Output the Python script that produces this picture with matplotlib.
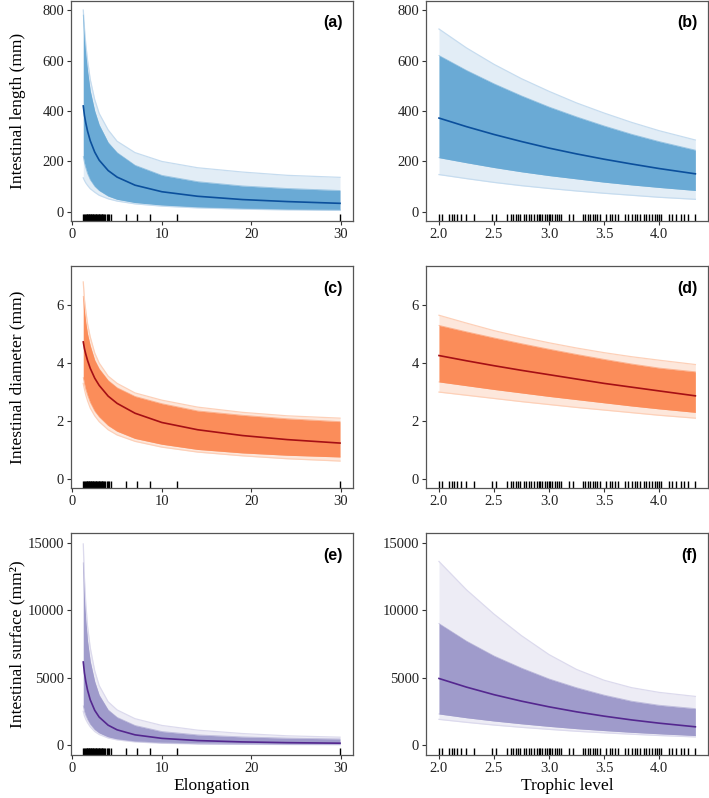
import matplotlib
matplotlib.use("Agg")
import matplotlib.pyplot as plt

plt.rcParams['font.family'] = ['Liberation Serif', 'DejaVu Serif']

elong_x = [1.22, 1.35, 1.5, 1.7, 2.0, 2.5, 3.0, 4.0, 5.0, 7.0, 10, 14, 19, 24, 29.9]
troph_x = [2.0, 2.25, 2.5, 2.75, 3.0, 3.25, 3.5, 3.75, 4.0, 4.33]

# (a) intestinal length vs elongation
len_el_med = [420, 383, 353, 320, 282, 237, 205, 164, 138, 106, 80, 62, 49, 41, 34]
len_el_hi = [780, 700, 630, 560, 480, 400, 345, 275, 235, 185, 145, 120, 103, 93, 85]
len_el_top = [800, 730, 665, 600, 525, 445, 390, 325, 280, 235, 200, 175, 158, 145, 137]
len_el_lo = [220, 195, 175, 152, 128, 102, 85, 63, 50, 37, 27, 19, 14, 10, 8]
len_el_bot = [135, 125, 115, 105, 92, 78, 66, 52, 43, 32, 23, 16, 11, 8, 6]

# (b) intestinal length vs trophic level
len_tl_med = [372, 338, 307, 279, 253, 230, 209, 190, 172, 151]
len_tl_hi = [620, 561, 508, 460, 416, 377, 341, 308, 279, 245]
len_tl_top = [725, 650, 585, 528, 478, 432, 392, 355, 322, 285]
len_tl_lo = [215, 195, 176, 159, 144, 131, 118, 107, 97, 85]
len_tl_bot = [148, 132, 117, 104, 93, 83, 74, 66, 58, 50]

# (c) intestinal diameter vs elongation
dia_el_med = [4.73, 4.50, 4.31, 4.09, 3.82, 3.48, 3.23, 2.86, 2.61, 2.27, 1.95, 1.70, 1.50, 1.36, 1.24]
dia_el_hi = [6.3, 5.8, 5.4, 5.0, 4.6, 4.1, 3.8, 3.4, 3.15, 2.85, 2.6, 2.35, 2.2, 2.08, 1.98]
dia_el_top = [6.8, 6.2, 5.8, 5.35, 4.9, 4.35, 4.0, 3.55, 3.3, 2.97, 2.72, 2.48, 2.3, 2.18, 2.1]
dia_el_lo = [3.5, 3.3, 3.1, 2.9, 2.65, 2.35, 2.15, 1.85, 1.65, 1.4, 1.2, 1.02, 0.9, 0.82, 0.76]
dia_el_bot = [3.3, 3.1, 2.9, 2.7, 2.45, 2.18, 1.98, 1.7, 1.52, 1.3, 1.1, 0.93, 0.8, 0.7, 0.62]

# (d) intestinal diameter vs trophic level
dia_tl_med = [4.26, 4.08, 3.91, 3.75, 3.60, 3.45, 3.30, 3.17, 3.04, 2.87]
dia_tl_hi = [5.3, 5.08, 4.87, 4.67, 4.48, 4.3, 4.13, 3.97, 3.83, 3.7]
dia_tl_top = [5.65, 5.38, 5.12, 4.9, 4.7, 4.52, 4.36, 4.22, 4.1, 3.95]
dia_tl_lo = [3.35, 3.22, 3.09, 2.97, 2.85, 2.74, 2.63, 2.52, 2.42, 2.3]
dia_tl_bot = [3.0, 2.89, 2.78, 2.67, 2.57, 2.47, 2.38, 2.29, 2.2, 2.1]

# (e) intestinal surface vs elongation
sur_el_med = [6150, 5345, 4715, 4062, 3348, 2569, 2068, 1468, 1125, 754, 493, 330, 230, 174, 135]
sur_el_hi = [13500, 11000, 9300, 7700, 6200, 4700, 3700, 2600, 2050, 1450, 1000, 750, 600, 510, 450]
sur_el_top = [14900, 12400, 10500, 8800, 7200, 5500, 4400, 3200, 2600, 1950, 1450, 1100, 850, 680, 580]
sur_el_lo = [2900, 2500, 2200, 1900, 1550, 1150, 900, 600, 440, 270, 160, 95, 65, 45, 35]
sur_el_bot = [2500, 2150, 1900, 1650, 1350, 1000, 780, 520, 380, 230, 130, 80, 50, 35, 25]

# (f) intestinal surface vs trophic level
sur_tl_med = [4930, 4290, 3730, 3250, 2830, 2460, 2140, 1860, 1620, 1350]
sur_tl_hi = [9000, 7700, 6600, 5700, 4900, 4250, 3700, 3250, 2950, 2700]
sur_tl_top = [13600, 11500, 9700, 8100, 6700, 5600, 4800, 4250, 3900, 3600]
sur_tl_lo = [2300, 2020, 1780, 1570, 1380, 1210, 1070, 940, 830, 700]
sur_tl_bot = [1900, 1680, 1480, 1310, 1160, 1020, 905, 800, 705, 600]

# observed predictor values (rug)
elong_obs = [1.22, 1.31, 1.40, 1.52, 1.60, 1.68, 1.75, 1.83, 1.90, 1.98, 2.05, 2.12,
             2.20, 2.28, 2.35, 2.44, 2.52, 2.60, 2.68, 2.77, 2.85, 2.93, 3.02, 3.10,
             3.18, 3.27, 3.35, 3.45, 3.55, 3.66, 3.90, 4.02, 4.15, 4.28,
             5.98, 7.22, 8.70, 11.70, 29.90]
troph_obs = [2.00, 2.03, 2.09, 2.12, 2.14, 2.16, 2.20, 2.25, 2.32,
             2.48, 2.52,
             2.62, 2.65, 2.67, 2.70, 2.72, 2.74, 2.77, 2.79, 2.82, 2.84, 2.86,
             2.89, 2.91, 2.92, 2.94, 2.96, 2.98, 3.00, 3.01, 3.03, 3.05, 3.07, 3.09, 3.11,
             3.18, 3.22,
             3.31, 3.33, 3.35, 3.37, 3.40, 3.42, 3.44, 3.46,
             3.52, 3.55, 3.57, 3.60, 3.63,
             3.69, 3.72, 3.75, 3.78, 3.80, 3.83, 3.86, 3.88, 3.91, 3.94, 3.96, 3.98, 4.00, 4.02,
             4.09, 4.12, 4.15,
             4.20, 4.23, 4.26,
             4.33]

blue = ("#c6dcef", "#6aaad5", "#0b4f9c")
orange = ("#fdd0b8", "#fb8d5a", "#a50f15")
purple = ("#dcdaed", "#9f9bcb", "#54278f")

fig = plt.figure(figsize=(7.09, 7.98), dpi=100)

lefts = [71 / 709, 426 / 709]
width = 282 / 709
rows = [(577 / 798, 220 / 798), (310 / 798, 222 / 798), (43 / 798, 222 / 798)]

panels = [
    (0, 0, "(a)", elong_x, len_el_med, len_el_hi, len_el_top, len_el_lo, len_el_bot, blue, elong_obs),
    (0, 1, "(b)", troph_x, len_tl_med, len_tl_hi, len_tl_top, len_tl_lo, len_tl_bot, blue, troph_obs),
    (1, 0, "(c)", elong_x, dia_el_med, dia_el_hi, dia_el_top, dia_el_lo, dia_el_bot, orange, elong_obs),
    (1, 1, "(d)", troph_x, dia_tl_med, dia_tl_hi, dia_tl_top, dia_tl_lo, dia_tl_bot, orange, troph_obs),
    (2, 0, "(e)", elong_x, sur_el_med, sur_el_hi, sur_el_top, sur_el_lo, sur_el_bot, purple, elong_obs),
    (2, 1, "(f)", troph_x, sur_tl_med, sur_tl_hi, sur_tl_top, sur_tl_lo, sur_tl_bot, purple, troph_obs),
]

ylims = [(-36, 836), (-0.31, 7.35), (-740, 15710)]
yticks = [[0, 200, 400, 600, 800], [0, 2, 4, 6], [0, 5000, 10000, 15000]]
ylabels = ["Intestinal length (mm)", "Intestinal diameter (mm)", "Intestinal surface (mm\u00b2)"]

for r, c, tag, x, med, hi, top, lo, bot, cols, obs in panels:
    b, h = rows[r]
    ax = fig.add_axes([lefts[c], b, width, h])
    light, mid, dark = cols
    # faint outer draws, dense central draws, then the median curve
    ax.fill_between(x, bot, top, color=light, alpha=0.5, lw=0)
    ax.plot(x, top, color=light, lw=0.9)
    ax.plot(x, bot, color=light, lw=0.9)
    ax.fill_between(x, lo, hi, color=mid, lw=0)
    ax.plot(x, lo, color=mid, lw=0.6, alpha=0.6)
    ax.plot(x, hi, color=mid, lw=0.6, alpha=0.6)
    ax.plot(x, med, color=dark, lw=1.2)
    ax.vlines(obs, 0, 0.032, color="black", lw=1.0, transform=ax.get_xaxis_transform())

    if c == 0:
        ax.set_xlim(-0.15, 31.35)
        ax.set_xticks([0, 10, 20, 30])
    else:
        ax.set_xlim(1.882, 4.445)
        ax.set_xticks([2.0, 2.5, 3.0, 3.5, 4.0])
        ax.set_xticklabels(["2.0", "2.5", "3.0", "3.5", "4.0"])
    ax.set_ylim(*ylims[r])
    ax.set_yticks(yticks[r])

    for s in ax.spines.values():
        s.set_color("#555555")
        s.set_linewidth(0.9)
    ax.tick_params(direction="out", length=3, width=0.8, color="#333333",
                   labelsize=10.5, labelcolor="#222222", pad=2)

    ax.text(0.962, 0.9, tag, transform=ax.transAxes, ha="right", va="center",
            fontsize=11.5, fontweight="bold", family="Liberation Sans")

    if c == 0:
        ax.set_ylabel(ylabels[r], fontsize=12.5)
        ax.yaxis.set_label_coords(-0.16, 0.5)
    if r == 2:
        ax.set_xlabel("Elongation" if c == 0 else "Trophic level", fontsize=12.5, labelpad=2)

fig.savefig("out.png", dpi=100)
